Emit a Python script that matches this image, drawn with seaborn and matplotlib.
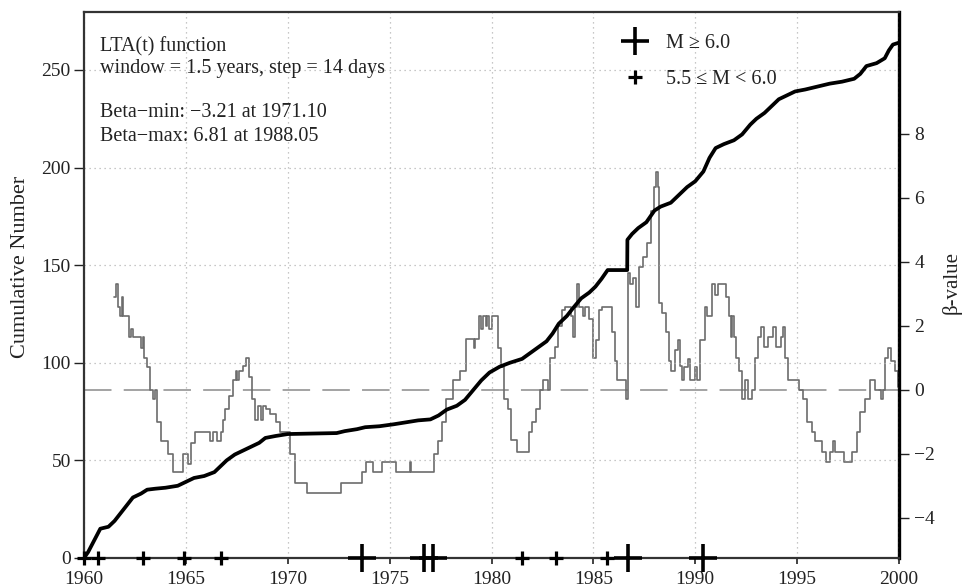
import matplotlib
matplotlib.use("Agg")
import matplotlib.pyplot as plt
from matplotlib.lines import Line2D
import numpy as np
import pandas as pd
import seaborn as sns

# Cumulative number of events
cum_year = [1960.0, 1960.2, 1960.4, 1960.6, 1960.8, 1961.2, 1961.5, 1961.8, 1962.1, 1962.4,
            1962.8, 1963.1, 1963.5, 1964.0, 1964.6, 1965.0, 1965.4, 1965.9, 1966.4, 1966.7,
            1967.0, 1967.4, 1967.8, 1968.2, 1968.6, 1968.9, 1969.4, 1970.0, 1972.4, 1972.8,
            1973.4, 1973.8, 1974.5, 1975.2, 1975.8, 1976.4, 1977.0, 1977.4, 1977.8, 1978.3,
            1978.7, 1979.1, 1979.5, 1979.9, 1980.4, 1980.9, 1981.5, 1981.9, 1982.3, 1982.7,
            1983.0, 1983.3, 1983.7, 1984.0, 1984.4, 1984.8, 1985.1, 1985.4, 1985.7, 1986.66,
            1986.67, 1986.9, 1987.2, 1987.6, 1988.0, 1988.3, 1988.8, 1989.2, 1989.6, 1990.0,
            1990.4, 1990.7, 1991.0, 1991.4, 1991.9, 1992.3, 1992.7, 1993.0, 1993.4, 1993.8,
            1994.1, 1994.5, 1994.9, 1995.4, 1996.0, 1996.6, 1997.2, 1997.8, 1998.1, 1998.4,
            1998.9, 1999.3, 1999.5, 1999.7, 2000.0]
cum_count = [0, 3, 7, 11, 15, 16, 19, 23, 27, 31,
             33, 35, 35.5, 36, 37, 39, 41, 42, 44, 47,
             50, 53, 55, 57, 59, 61.5, 62.5, 63.5, 64, 65,
             66, 67, 67.5, 68.5, 69.5, 70.5, 71, 73, 76, 78,
             81, 86, 91, 95, 98, 100, 102, 105, 108, 111,
             115, 120, 124, 128, 133, 136, 139, 143, 147.5, 147.5,
             163, 166, 169, 172, 178, 180, 182, 186, 190, 193,
             198, 205, 210, 212, 214, 217, 222, 225, 228, 232,
             235, 237, 239, 240, 241.5, 243, 244, 245.5, 248, 252,
             253.5, 256, 260, 263, 264]

# LTA(t) beta-value
beta_year = [1961.45, 1961.55, 1961.65, 1961.75, 1961.85, 1961.92, 1962.2, 1962.3, 1962.4, 1962.8,
             1962.9, 1962.95, 1963.1, 1963.25, 1963.4, 1963.5, 1963.6, 1963.8, 1964.1, 1964.35,
             1964.85, 1965.1, 1965.25, 1965.45, 1966.2, 1966.35, 1966.55, 1966.7, 1966.8, 1966.9,
             1967.1, 1967.3, 1967.45, 1967.5, 1967.6, 1967.8, 1967.95, 1968.1, 1968.25, 1968.4,
             1968.55, 1968.7, 1968.8, 1968.95, 1969.15, 1969.4, 1969.6, 1970.1, 1970.35, 1970.95,
             1972.6, 1973.65, 1973.85, 1974.2, 1974.65, 1975.3, 1976.0, 1976.05, 1977.2, 1977.35,
             1977.55, 1977.75, 1978.1, 1978.45, 1978.75, 1979.15, 1979.2, 1979.4, 1979.5, 1979.6,
             1979.75, 1979.8, 1979.9, 1980.0, 1980.3, 1980.45, 1980.6, 1980.8, 1980.95, 1981.25,
             1981.85, 1982.0, 1982.2, 1982.4, 1982.55, 1982.75, 1982.85, 1983.1, 1983.25, 1983.45,
             1983.6, 1983.9, 1984.0, 1984.1, 1984.2, 1984.3, 1984.5, 1984.6, 1984.8, 1985.0,
             1985.15, 1985.3, 1985.4, 1985.9, 1986.05, 1986.15, 1986.62, 1986.7, 1986.8, 1986.95,
             1987.1, 1987.25, 1987.45, 1987.65, 1987.85, 1987.97, 1988.05, 1988.15, 1988.22, 1988.35,
             1988.55, 1988.7, 1988.82, 1989.0, 1989.15, 1989.25, 1989.35, 1989.45, 1989.65, 1989.75,
             1990.0, 1990.1, 1990.25, 1990.5, 1990.6, 1990.8, 1990.95, 1991.1, 1991.5, 1991.65,
             1991.75, 1991.8, 1991.88, 1992.0, 1992.15, 1992.3, 1992.45, 1992.6, 1992.8, 1992.95,
             1993.1, 1993.25, 1993.35, 1993.55, 1993.8, 1993.95, 1994.2, 1994.3, 1994.4, 1994.55,
             1995.1, 1995.3, 1995.5, 1995.75, 1995.9, 1996.2, 1996.4, 1996.6, 1996.75, 1996.85,
             1997.3, 1997.7, 1997.95, 1998.1, 1998.35, 1998.6, 1998.8, 1999.1, 1999.2, 1999.3,
             1999.45, 1999.6, 1999.8, 1999.95, 2000.0]
beta_value = [2.9, 3.3, 2.6, 2.3, 2.9, 2.3, 1.65, 1.9, 1.65, 1.3,
              1.65, 1.0, 0.7, 0.0, -0.3, 0.0, -1.0, -1.6, -2.0, -2.55,
              -2.0, -2.3, -1.65, -1.3, -1.6, -1.3, -1.6, -1.3, -0.95, -0.6,
              -0.2, 0.3, 0.6, 0.3, 0.6, 0.75, 1.0, 0.4, -0.3, -0.95,
              -0.5, -0.95, -0.5, -0.6, -0.75, -1.0, -1.3, -2.0, -2.9, -3.21,
              -2.9, -2.55, -2.25, -2.55, -2.25, -2.55, -2.25, -2.55, -2.0, -1.6,
              -1.0, -0.3, 0.3, 0.6, 1.6, 1.3, 1.6, 2.3, 1.9, 2.3,
              2.0, 2.3, 1.9, 2.3, 1.3, 0.7, -0.3, -0.6, -1.55, -1.95,
              -1.3, -1.0, -0.6, 0.0, 0.3, 0.0, 1.0, 1.35, 2.0, 2.5,
              2.6, 2.3, 1.65, 2.6, 3.3, 2.6, 2.3, 2.6, 2.2, 1.0,
              1.55, 2.5, 2.6, 1.8, 0.9, 0.3, -0.3, 3.65, 3.3, 3.5,
              2.6, 3.85, 4.15, 4.6, 5.6, 6.35, 6.81, 6.35, 2.7, 2.4,
              1.8, 0.9, 0.6, 1.25, 1.55, 0.75, 0.3, 0.7, 0.95, 0.3,
              0.7, 0.3, 1.55, 2.6, 2.3, 3.3, 2.95, 3.3, 2.9, 2.3,
              1.65, 2.3, 1.65, 1.0, 0.6, -0.3, 0.3, -0.3, 0.0, 1.0,
              1.65, 1.95, 1.35, 1.65, 1.95, 1.35, 1.65, 1.95, 1.0, 0.3,
              0.0, -0.3, -1.0, -1.3, -1.6, -1.95, -2.25, -1.95, -1.6, -1.95,
              -2.25, -1.95, -1.3, -0.7, -0.3, 0.3, 0.0, -0.3, 0.0, 1.0,
              1.3, 0.9, 0.6, 0.1, 0.1]

# Event times by magnitude class
big_year = [1973.65, 1976.7, 1977.15, 1986.7, 1990.4]
small_year = [1960.0, 1960.7, 1962.9, 1964.9, 1966.7, 1981.5, 1983.15, 1985.65]

x_ticks = [1960, 1965, 1970, 1975, 1980, 1985, 1990, 1995, 2000]
left_ticks = [0, 50, 100, 150, 200, 250]
right_ticks = [-4, -2, 0, 2, 4, 6, 8]

sns.set_theme(style="ticks")
plt.rcParams["font.family"] = ["Liberation Serif", "DejaVu Serif"]
plt.rcParams["axes.unicode_minus"] = True

cum_df = pd.DataFrame({"year": cum_year, "count": cum_count})
beta_df = pd.DataFrame({"year": beta_year, "beta": beta_value})
big_df = pd.DataFrame({"year": big_year, "y": np.zeros(len(big_year))})
small_df = pd.DataFrame({"year": small_year, "y": np.zeros(len(small_year))})

fig = plt.figure(figsize=(9.65, 5.88), dpi=100)
ax = fig.add_axes([84 / 965, 30 / 588, 815 / 965, 546 / 588])
ax2 = ax.twinx()

# beta-value on the right axis, drawn beneath the cumulative curve
sns.lineplot(data=beta_df, x="year", y="beta", ax=ax2, color="#6c6c6c", linewidth=1.2,
             drawstyle="steps-post", estimator=None, sort=False)
ax2.axhline(0, color="#8a8a8a", linewidth=1.1, dashes=(18, 8), zorder=1)

sns.lineplot(data=cum_df, x="year", y="count", ax=ax, color="black", linewidth=2.7,
             estimator=None, sort=False, zorder=4)

sns.scatterplot(data=small_df, x="year", y="y", ax=ax, marker="+", s=110, linewidth=2.3,
                color="black", clip_on=False, zorder=6)
sns.scatterplot(data=big_df, x="year", y="y", ax=ax, marker="+", s=420, linewidth=2.6,
                color="black", clip_on=False, zorder=6)

ax.set_zorder(ax2.get_zorder() + 1)
ax.patch.set_visible(False)

ax.set_xlim(1960, 2000)
ax.set_ylim(0, 279.7)
ax2.set_ylim(-5.25, 11.8)
ax.set_xticks(x_ticks)
ax.set_yticks(left_ticks)
ax2.set_yticks(right_ticks)

ax.grid(True, color="#b5b5b5", linewidth=0.9, linestyle=(0, (1, 3)))
ax2.grid(False)

ax.set_xlabel("")
ax.set_ylabel("Cumulative Number", fontsize=16, color="#222222")
ax.yaxis.set_label_coords(-0.066, 0.533)
ax2.set_ylabel("\u03b2-value", fontsize=15, color="#222222")
ax2.yaxis.set_label_coords(1.052, 0.505)

ax.tick_params(axis="x", direction="out", length=4, width=1.2, pad=5.5,
               labelsize=14, colors="#222222")
ax.tick_params(axis="y", direction="out", length=7, width=1.0, pad=2.5,
               labelsize=14, colors="#222222")
ax2.tick_params(axis="y", direction="out", length=7, width=1.0, pad=4,
                labelsize=14, colors="#222222")

for name, sp in ax.spines.items():
    sp.set_color("#333333")
    sp.set_linewidth(1.6)
ax.spines["right"].set_visible(False)
for name, sp in ax2.spines.items():
    sp.set_visible(name == "right")
ax2.spines["right"].set_color("black")
ax2.spines["right"].set_linewidth(2.4)

# annotation block
txt_kw = dict(transform=ax.transAxes, fontsize=14.5, color="#222222", va="baseline", ha="left")
ax.text(0.0196, 0.927, "LTA(t) function", **txt_kw)
ax.text(0.0196, 0.888, "window = 1.5 years, step = 14 days", **txt_kw)
ax.text(0.0196, 0.808, "Beta\u2212min: \u22123.21 at 1971.10", **txt_kw)
ax.text(0.0196, 0.764, "Beta\u2212max: 6.81 at 1988.05", **txt_kw)

handles = [
    Line2D([], [], marker="+", linestyle="none", markersize=20.5, markeredgewidth=2.6, color="black"),
    Line2D([], [], marker="+", linestyle="none", markersize=10.5, markeredgewidth=2.3, color="black"),
]
ax.legend(handles, ["M \u2265 6.0", "5.5 \u2264 M < 6.0"], loc="upper left",
          bbox_to_anchor=(0.658, 0.960), frameon=False, fontsize=14.5,
          handlelength=1.5, handletextpad=0.75, labelspacing=0.85,
          borderpad=0, borderaxespad=0, labelcolor="#222222")

fig.savefig("out.png", dpi=100)
